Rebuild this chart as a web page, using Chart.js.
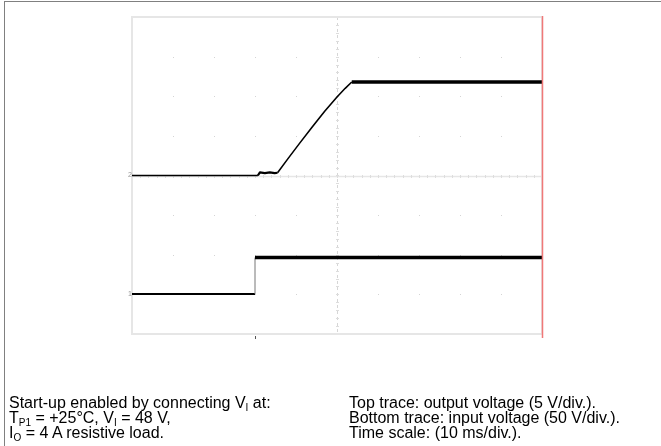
<!DOCTYPE html>
<html>
<head>
<meta charset="utf-8">
<script src="https://cdn.jsdelivr.net/npm/chart.js@4.4.1/dist/chart.umd.min.js"></script>
<style>
  html, body { margin: 0; padding: 0; background: #fff; }
  #wrap { position: relative; width: 661px; height: 446px; overflow: hidden; }
  #frame { position: absolute; left: 4px; top: 1px; width: 700px; height: 500px;
           border-left: 1px solid #808080; border-top: 1px solid #808080; }
  #scope { position: absolute; left: 0; top: 0; }
  .cap { position: absolute; top: 395px; font-family: "Liberation Sans", Arial, sans-serif;
         font-size: 16px; line-height: 15px; color: #000; white-space: nowrap; }
  .cap sub { font-size: 10px; vertical-align: -3px; line-height: 0; }
</style>
</head>
<body>
<div id="wrap">
  <div id="frame"></div>
  <canvas id="scope" width="661" height="446"></canvas>
  <div class="cap" style="left:9px">
    Start-up enabled by connecting V<sub>I</sub> at:<br>
    T<sub>P1</sub> = +25°C, V<sub>I</sub> = 48 V,<br>
    I<sub>O</sub> = 4 A resistive load.
  </div>
  <div class="cap" style="left:349px">
    Top trace: output voltage (5 V/div.).<br>
    Bottom trace: input voltage (50 V/div.).<br>
    Time scale: (10 ms/div.).
  </div>
</div>
<script>
// time in ms (10 ms/div), level in screen divisions (0 = bottom, 8 = top)
const topTime  = [0, 30.7, 31.2, 32.4, 33.6, 34.8, 35.5, 38, 41, 44, 47, 50, 52, 53.6, 100];
const topLevel = [4.0, 4.0, 4.08, 4.06, 4.08, 4.06, 4.07, 4.42, 4.83, 5.23, 5.62, 5.98, 6.2, 6.36, 6.36];

const bottomTime  = [0, 30.0, 30.0, 100];
const bottomLevel = [1.01, 1.01, 1.93, 1.93];

const xDivs = [0, 10, 20, 30, 40, 50, 60, 70, 80, 90, 100];
const yDivs = [0, 1, 2, 3, 4, 5, 6, 7, 8];
const traceLabels = ['2', '1'];

const toPoints = (xs, ys) => xs.map((x, i) => ({ x: x, y: ys[i] }));

// scope screen: frame, dotted graticule, center cross with minor ticks, cursor
const screenPlugin = {
    id: 'screen',
    beforeDatasetsDraw(chart) {
        const c = chart.ctx, a = chart.chartArea;
        const xs = chart.scales.x, ys = chart.scales.y;
        c.save();
        // faint dots at intersections
        c.fillStyle = '#d4d4d4';
        xDivs.forEach(t => yDivs.forEach(v => {
            c.fillRect(Math.round(xs.getPixelForValue(t)), Math.round(ys.getPixelForValue(v)), 1, 1);
        }));
        // center cross
        const cx = Math.round(xs.getPixelForValue(50)) + 0.5;
        const cy = Math.round(ys.getPixelForValue(4)) + 0.5;
        c.strokeStyle = '#e6e6e6';
        c.lineWidth = 1.5;
        c.beginPath(); c.moveTo(a.left, cy); c.lineTo(a.right, cy); c.stroke();
        c.setLineDash([3, 3]);
        c.strokeStyle = '#d6d6d6';
        c.lineWidth = 1;
        c.beginPath(); c.moveTo(cx, a.top); c.lineTo(cx, a.bottom); c.stroke();
        c.setLineDash([]);
        // minor ticks (5 per division)
        c.strokeStyle = '#dddddd';
        c.lineWidth = 1;
        for (let t = 0; t <= 100; t += 2) {
            const px = Math.round(xs.getPixelForValue(t)) + 0.5;
            c.beginPath(); c.moveTo(px, cy - 1.5); c.lineTo(px, cy + 1.5); c.stroke();
        }
        for (let v = 0; v <= 8; v += 0.2) {
            const py = Math.round(ys.getPixelForValue(v)) + 0.5;
            c.beginPath(); c.moveTo(cx - 1.5, py); c.lineTo(cx + 1.5, py); c.stroke();
        }
        // frame
        c.strokeStyle = '#e6e6e6';
        c.lineWidth = 2;
        c.strokeRect(a.left, a.top, a.right - a.left, a.bottom - a.top);
        c.restore();
    },
    afterDatasetsDraw(chart) {
        const c = chart.ctx, a = chart.chartArea;
        const xs = chart.scales.x, ys = chart.scales.y;
        c.save();
        // right cursor
        const rx = Math.round(xs.getPixelForValue(100)) + 0.5;
        c.strokeStyle = '#f07878';
        c.lineWidth = 1.5;
        c.beginPath(); c.moveTo(rx, a.top - 1); c.lineTo(rx, a.bottom + 4); c.stroke();
        // trigger marker
        const tx = Math.round(xs.getPixelForValue(bottomTime[1])) + 0.5;
        c.strokeStyle = '#555';
        c.lineWidth = 1;
        c.beginPath(); c.moveTo(tx, a.bottom + 2); c.lineTo(tx, a.bottom + 5); c.stroke();
        // trace labels
        c.fillStyle = '#999';
        c.font = '7px "Liberation Sans", Arial, sans-serif';
        c.textAlign = 'right';
        c.textBaseline = 'middle';
        c.fillText(traceLabels[0], a.left, ys.getPixelForValue(topLevel[0]));
        c.fillText(traceLabels[1], a.left, ys.getPixelForValue(bottomLevel[0]));
        c.restore();
    }
};

const ctx = document.getElementById('scope').getContext('2d');
const scope = new Chart(ctx, {
    type: 'line',
    data: {
        datasets: [{
            label: 'Output voltage',
            data: toPoints(topTime, topLevel),
            borderColor: '#000',
            borderWidth: 1.5,
            segment: {
                borderWidth: s => s.p0.parsed.x >= 53 ? 3.5 : (s.p0.parsed.x >= 30.7 && s.p0.parsed.x < 35.5 ? 2.2 : 1.6)
            }
        }, {
            label: 'Input voltage',
            data: toPoints(bottomTime, bottomLevel),
            borderColor: '#000',
            borderWidth: 2.2,
            segment: {
                borderWidth: s => s.p0.parsed.x === s.p1.parsed.x ? 1 : (s.p0.parsed.x >= 30 ? 3.5 : 2.2),
                borderColor: s => s.p0.parsed.x === s.p1.parsed.x ? '#777' : '#000'
            }
        }]
    },
    options: {
        responsive: false,
        animation: false,
        devicePixelRatio: 1,
        layout: { padding: { left: 132, top: 17, right: 119, bottom: 112 } },
        elements: { point: { radius: 0 }, line: { tension: 0, borderJoinStyle: 'round' } },
        plugins: { legend: { display: false }, tooltip: { enabled: false } },
        scales: {
            x: { type: 'linear', min: 0, max: 100, display: false },
            y: { type: 'linear', min: 0, max: 8, display: false }
        }
    },
    plugins: [screenPlugin]
});
</script>
</body>
</html>
